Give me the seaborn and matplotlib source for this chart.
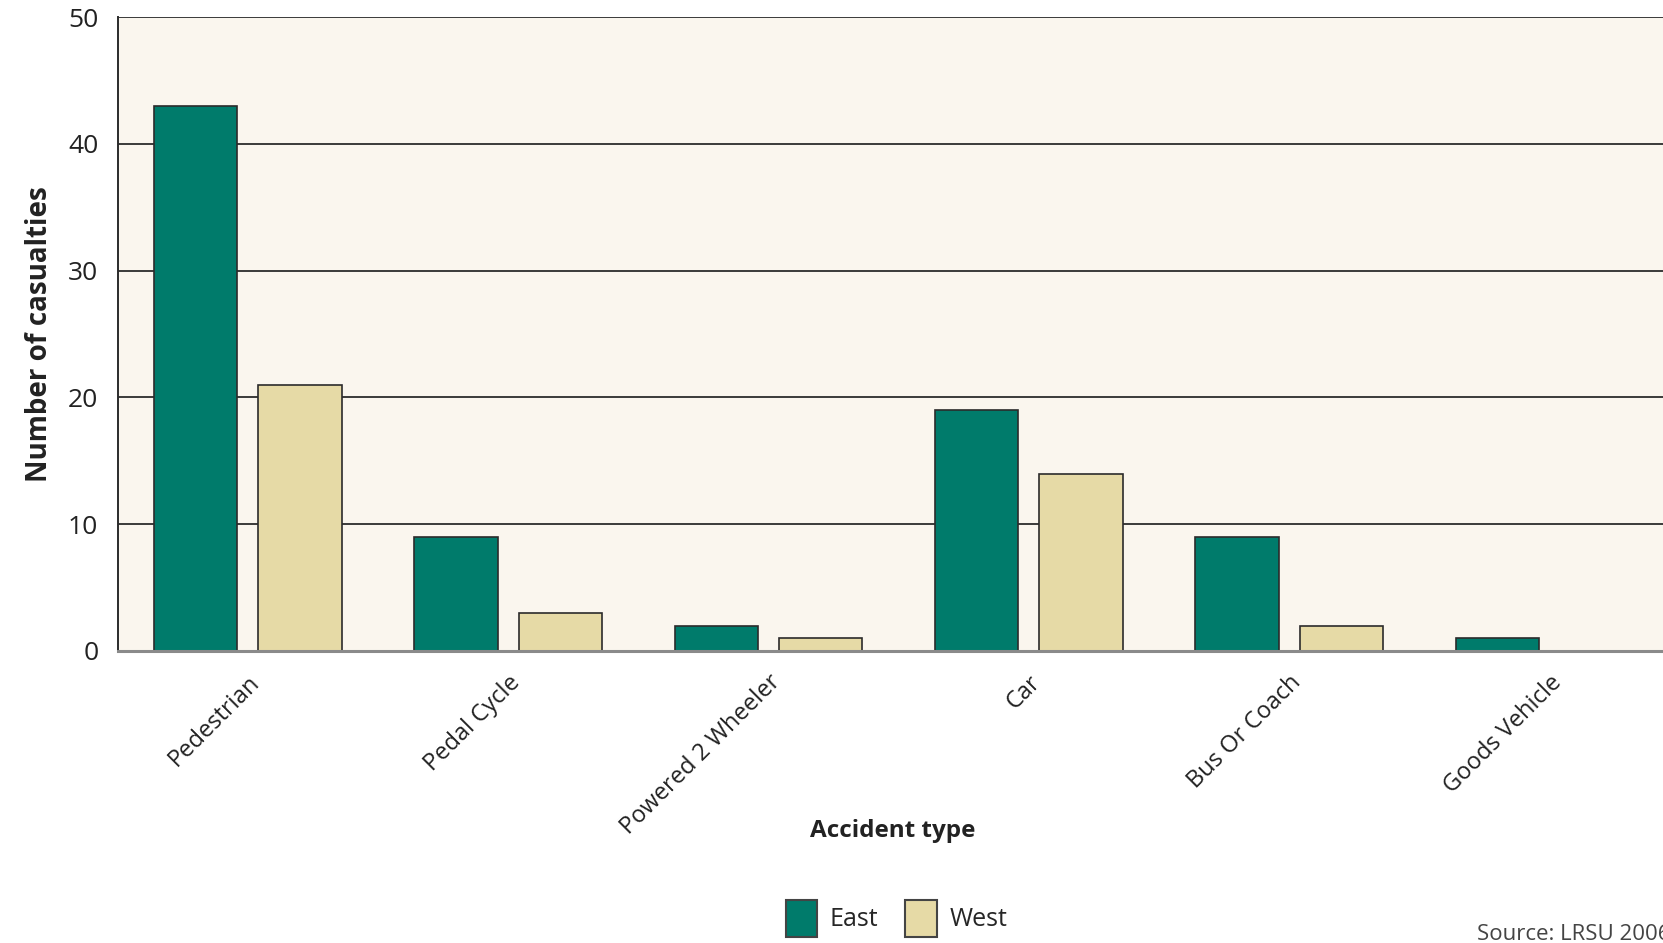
import numpy as np
import pandas as pd
import matplotlib
matplotlib.use('Agg')
import matplotlib.pyplot as plt
import seaborn as sns
from matplotlib.patches import Patch

# Data
categories = ['Pedestrian', 'Pedal Cycle', 'Powered 2 Wheeler', 'Car',
              'Bus Or Coach', 'Goods Vehicle']
east = [43, 9, 2, 19, 9, 1]
west = [21, 3, 1, 14, 2, 0]
regions = ['East', 'West']
y_ticks = [0, 10, 20, 30, 40, 50]

df = pd.DataFrame({
    'Accident type': categories * 2,
    'Casualties': east + west,
    'Region': ['East'] * len(categories) + ['West'] * len(categories),
})

colors = {'East': '#007B6B', 'West': '#E6DAA6'}

sns.set_style('white')
plt.rcParams['font.family'] = ['Open Sans', 'DejaVu Sans']

fig = plt.figure(figsize=(16.63, 9.43), dpi=100)
# the reference is cropped on the right, so the axes run past the figure edge
ax = fig.add_axes([0.0708, 0.3097, 0.9392, 0.672])
ax.set_facecolor('#FAF6EE')

sns.barplot(data=df, x='Accident type', y='Casualties', hue='Region',
            order=categories, hue_order=regions, palette=colors,
            saturation=1, gap=0.2, width=0.8, edgecolor='#2b2b2b',
            linewidth=1.2, legend=False, ax=ax)

ax.set_xlim(-0.5, len(categories) - 0.5)
ax.set_ylim(0, 50)
ax.set_yticks(y_ticks)
ax.yaxis.grid(True, color='#3a3a3a', linewidth=1.4)
ax.set_axisbelow(True)

for side in ['top', 'right']:
    ax.spines[side].set_visible(False)
ax.spines['left'].set_color('#2b2b2b')
ax.spines['left'].set_linewidth(1.4)
ax.spines['bottom'].set_color('#8a8a8a')
ax.spines['bottom'].set_linewidth(2.2)

ax.tick_params(axis='y', length=8, width=1.4, color='#2b2b2b',
               labelsize=19, labelcolor='#222222', pad=6)
# category labels at centres, tick marks at boundaries
ax.set_xticks(np.arange(len(categories)))
ax.set_xticklabels(categories, rotation=45, ha='right',
                   rotation_mode='anchor', fontsize=17, color='#222222')
ax.tick_params(axis='x', which='major', length=0, pad=14)
ax.set_xticks(np.arange(-0.5, len(categories)), minor=True)
ax.tick_params(axis='x', which='minor', length=12, width=1.4,
               color='#2b2b2b')

ax.set_ylabel('Number of casualties', fontsize=20, fontweight='bold',
              color='#222222', labelpad=10)
ax.set_xlabel('Accident type', fontsize=17.5, fontweight='bold',
              color='#222222')
ax.xaxis.set_label_coords(0.496, -0.265)

handles = [Patch(facecolor=colors[r], edgecolor='#444444', linewidth=1.5,
                 label=r) for r in regions]
fig.legend(handles=handles, loc='center', bbox_to_anchor=(0.539, 0.026),
           ncol=2, frameon=False, fontsize=18, handlelength=1.25,
           handleheight=1.9, columnspacing=1.1, handletextpad=0.5)

fig.text(0.888, 0.009, 'Source: LRSU 2006', fontsize=16, color='#444444',
         ha='left', va='center')

fig.savefig('out.png', dpi=100)
plt.close(fig)
